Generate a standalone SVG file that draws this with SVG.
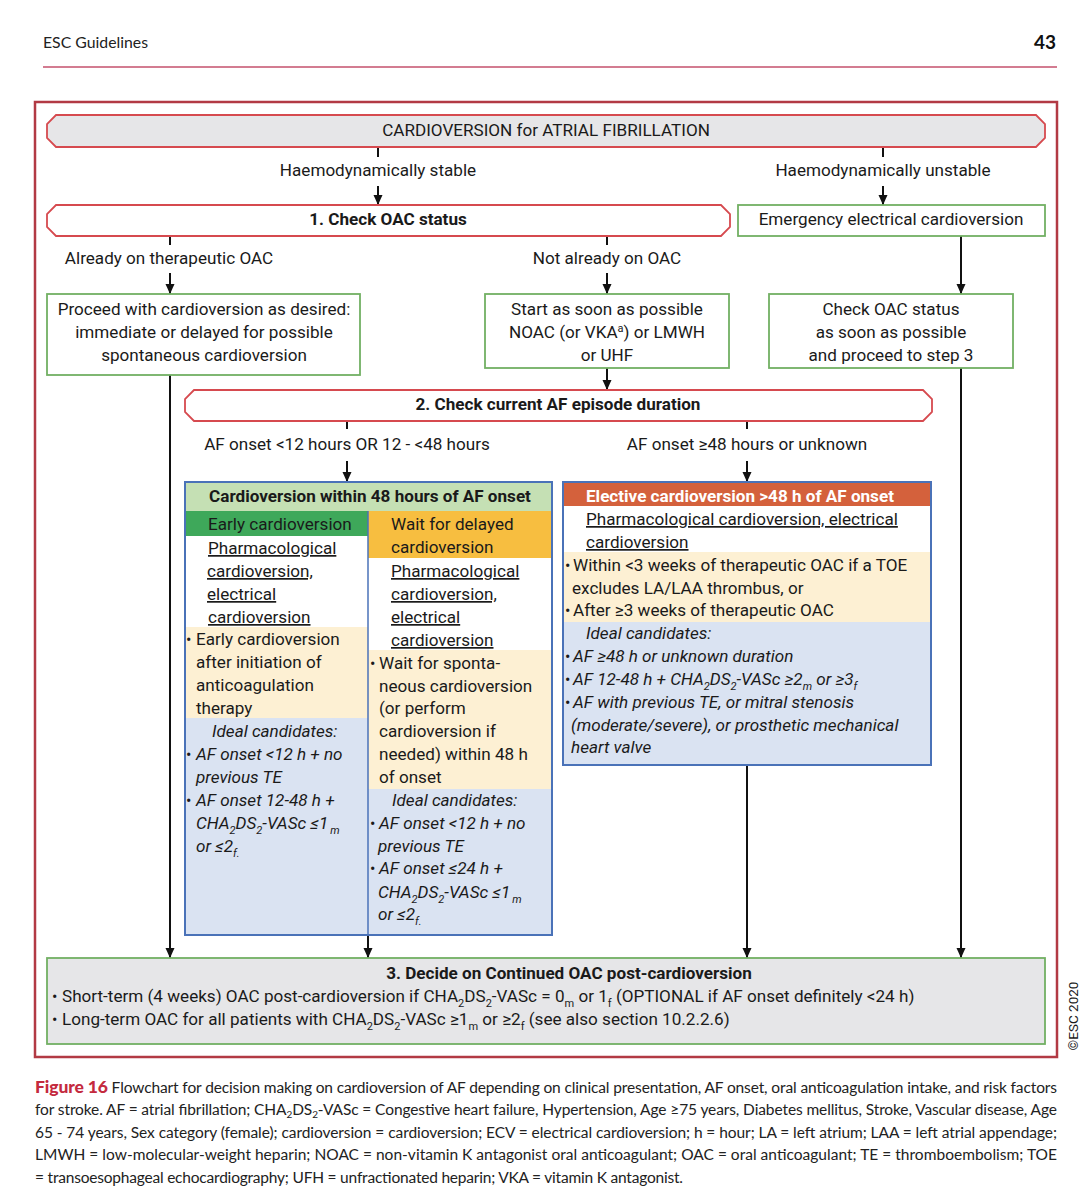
<svg xmlns="http://www.w3.org/2000/svg" width="1088" height="1200" viewBox="0 0 1088 1200">
<style>
text{font-family:Roboto,"Liberation Sans",sans-serif;font-size:17.1px;fill:#1a1a1a}
.c{text-anchor:middle}
.b{font-weight:bold}
.i{font-style:italic}
.u{text-decoration:underline}
.w{fill:#ffffff}
.sub{font-size:11px}
.bul{font-size:16px}
.cap{font-family:Lato,"Open Sans","Liberation Sans",sans-serif;font-size:15.5px;fill:#222}
.ban{stroke:#d64a4f;stroke-width:1.8}
.grn{fill:#ffffff;stroke:#72b063;stroke-width:1.8}
.conn line{stroke:#111;stroke-width:2}
.arr{marker-end:url(#ah)}
</style>
<defs>
<marker id="ah" markerUnits="userSpaceOnUse" markerWidth="10" markerHeight="10" refX="10" refY="5" orient="auto">
<path d="M0,0.5 L10,5 L0,9.5 z" fill="#111"/>
</marker>
</defs>
<rect width="1088" height="1200" fill="#ffffff"/>

<g id="page-header">
<text x="43" y="48" class="cap" style="font-size:15.8px">ESC Guidelines</text>
<text x="1056" y="49" class="cap b" style="font-size:19px;text-anchor:end;fill:#111">43</text>
<line x1="43" y1="67" x2="1057" y2="67" stroke="#c4506c" stroke-width="1.5"/>
</g>

<rect id="frame" x="35" y="102" width="1022" height="955" fill="none" stroke="#b23a44" stroke-width="2.5"/>

<g class="conn">
<line x1="378" y1="147" x2="378" y2="157"/>
<line class="arr" x1="378" y1="186" x2="378" y2="205"/>
<line x1="883" y1="147" x2="883" y2="157"/>
<line class="arr" x1="883" y1="186" x2="883" y2="205"/>
<line x1="170" y1="236" x2="170" y2="245"/>
<line class="arr" x1="170" y1="273" x2="170" y2="294"/>
<line x1="607" y1="236" x2="607" y2="245"/>
<line class="arr" x1="607" y1="273" x2="607" y2="294"/>
<line class="arr" x1="961" y1="236" x2="961" y2="294"/>
<line class="arr" x1="607" y1="368" x2="607" y2="390"/>
<line class="arr" x1="170" y1="375" x2="170" y2="958"/>
<line class="arr" x1="961" y1="368" x2="961" y2="958"/>
<line x1="347" y1="421" x2="347" y2="429"/>
<line class="arr" x1="347" y1="461" x2="347" y2="482"/>
<line x1="747" y1="421" x2="747" y2="429"/>
<line class="arr" x1="747" y1="461" x2="747" y2="482"/>
<line class="arr" x1="368" y1="935" x2="368" y2="958"/>
<line class="arr" x1="747" y1="765" x2="747" y2="958"/>
</g>

<g id="edge-labels">
<text x="378" y="176" class="c">Haemodynamically stable</text>
<text x="883" y="176" class="c">Haemodynamically unstable</text>
<text x="169" y="264" class="c">Already on therapeutic OAC</text>
<text x="607" y="264" class="c">Not already on OAC</text>
<text x="347" y="450" class="c">AF onset &lt;12 hours OR 12 - &lt;48 hours</text>
<text x="747" y="450" class="c">AF onset ≥48 hours or unknown</text>
</g>

<g id="title">
<polygon class="ban" fill="#e6e6e8" points="56,115 1036,115 1045,124 1045,138 1036,147 56,147 47,138 47,124"/>
<text x="546" y="136" class="c">CARDIOVERSION for ATRIAL FIBRILLATION</text>
</g>

<g id="check-oac">
<polygon class="ban" fill="#ffffff" points="56,205 721,205 730,214 730,227 721,236 56,236 47,227 47,214"/>
<text x="388" y="225" class="c b">1. Check OAC status</text>
</g>

<g id="emergency">
<rect class="grn" x="738" y="205" width="307" height="31"/>
<text x="891" y="225" class="c">Emergency electrical cardioversion</text>
</g>

<g id="proceed">
<rect class="grn" x="47" y="294" width="313" height="81"/>
<text x="204" y="315" class="c">Proceed with cardioversion as desired:</text>
<text x="204" y="338" class="c">immediate or delayed for possible</text>
<text x="204" y="361" class="c">spontaneous cardioversion</text>
</g>

<g id="start-oac">
<rect class="grn" x="485" y="294" width="244" height="74"/>
<text x="607" y="315" class="c">Start as soon as possible</text>
<text x="607" y="338" class="c">NOAC (or VKA<tspan class="sub" dy="-6">a</tspan><tspan dy="6">) or LMWH</tspan></text>
<text x="607" y="361" class="c">or UHF</text>
</g>

<g id="check-later">
<rect class="grn" x="769" y="294" width="244" height="74"/>
<text x="891" y="315" class="c">Check OAC status</text>
<text x="891" y="338" class="c">as soon as possible</text>
<text x="891" y="361" class="c">and proceed to step 3</text>
</g>

<g id="check-duration">
<polygon class="ban" fill="#ffffff" points="194,390 923,390 932,399 932,412 923,421 194,421 185,412 185,399"/>
<text x="558" y="410" class="c b">2. Check current AF episode duration</text>
</g>

<g id="within-48h">
<rect x="185" y="482" width="183" height="453" fill="#dae3f2"/>
<rect x="368" y="482" width="184" height="453" fill="#dae3f2"/>
<rect x="185" y="511" width="183" height="25" fill="#3ea85a"/>
<rect x="185" y="536" width="183" height="91" fill="#ffffff"/>
<rect x="185" y="627" width="183" height="91" fill="#fdf0d3"/>
<rect x="368" y="511" width="184" height="47" fill="#f7be40"/>
<rect x="368" y="558" width="184" height="92" fill="#ffffff"/>
<rect x="368" y="650" width="184" height="139" fill="#fdf0d3"/>
<rect x="185" y="482" width="367" height="29" fill="#c5e0b4"/>
<line x1="368" y1="511" x2="368" y2="935" stroke="#4a72b8" stroke-width="1.5"/>
<rect x="185" y="482" width="367" height="453" fill="none" stroke="#4a72b8" stroke-width="2"/>
<text x="370" y="502" class="c b">Cardioversion within 48 hours of AF onset</text>

<text x="208" y="530">Early cardioversion</text>
<text x="208" y="554" class="u">Pharmacological</text>
<text x="207" y="577" class="u">cardioversion,</text>
<text x="207" y="600" class="u">electrical</text>
<text x="208" y="623" class="u">cardioversion</text>
<text x="186" y="645" class="bul">•</text>
<text x="196" y="645">Early cardioversion</text>
<text x="196" y="668">after initiation of</text>
<text x="196" y="691">anticoagulation</text>
<text x="196" y="714">therapy</text>
<text x="212" y="737" class="i">Ideal candidates:</text>
<text x="186" y="760" class="bul">•</text>
<text x="196" y="760" class="i">AF onset &lt;12 h + no</text>
<text x="196" y="783" class="i">previous TE</text>
<text x="186" y="806" class="bul">•</text>
<text x="196" y="806" class="i">AF onset 12-48 h +</text>
<text x="196" y="829" class="i">CHA<tspan class="sub" dy="5">2</tspan><tspan dy="-5">DS</tspan><tspan class="sub" dy="5">2</tspan><tspan dy="-5">-VASc ≤1</tspan><tspan class="sub" dy="5" dx="2">m</tspan></text>
<text x="196" y="852" class="i">or ≤2<tspan class="sub" dy="5">f.</tspan></text>

<text x="391" y="530">Wait for delayed</text>
<text x="391" y="553">cardioversion</text>
<text x="391" y="577" class="u">Pharmacological</text>
<text x="391" y="600" class="u">cardioversion,</text>
<text x="391" y="623" class="u">electrical</text>
<text x="391" y="646" class="u">cardioversion</text>
<text x="370" y="669" class="bul">•</text>
<text x="379" y="669">Wait for sponta-</text>
<text x="379" y="692">neous cardioversion</text>
<text x="379" y="714">(or perform</text>
<text x="379" y="737">cardioversion if</text>
<text x="379" y="760">needed) within 48 h</text>
<text x="379" y="783">of onset</text>
<text x="392" y="806" class="i">Ideal candidates:</text>
<text x="370" y="829" class="bul">•</text>
<text x="379" y="829" class="i">AF onset &lt;12 h + no</text>
<text x="378" y="852" class="i">previous TE</text>
<text x="370" y="874" class="bul">•</text>
<text x="379" y="874" class="i">AF onset ≤24 h +</text>
<text x="378" y="898" class="i">CHA<tspan class="sub" dy="5">2</tspan><tspan dy="-5">DS</tspan><tspan class="sub" dy="5">2</tspan><tspan dy="-5">-VASc ≤1</tspan><tspan class="sub" dy="5" dx="2">m</tspan></text>
<text x="378" y="920" class="i">or ≤2<tspan class="sub" dy="5">f.</tspan></text>
</g>

<g id="elective">
<rect x="563" y="482" width="368" height="283" fill="#dae3f2"/>
<rect x="563" y="482" width="368" height="24" fill="#d4613c"/>
<rect x="563" y="506" width="368" height="46" fill="#ffffff"/>
<rect x="563" y="552" width="368" height="70" fill="#fdf0d3"/>
<rect x="563" y="482" width="368" height="283" fill="none" stroke="#4a72b8" stroke-width="2"/>
<text x="586" y="502" class="b w">Elective cardioversion &gt;48 h of AF onset</text>
<text x="586" y="525" class="u">Pharmacological cardioversion, electrical</text>
<text x="586" y="548" class="u">cardioversion</text>
<text x="565" y="571" class="bul">•</text>
<text x="573" y="571">Within &lt;3 weeks of therapeutic OAC if a TOE</text>
<text x="572" y="594">excludes LA/LAA thrombus, or</text>
<text x="565" y="616" class="bul">•</text>
<text x="573" y="616">After ≥3 weeks of therapeutic OAC</text>
<text x="586" y="639" class="i">Ideal candidates:</text>
<text x="565" y="662" class="bul">•</text>
<text x="573" y="662" class="i">AF ≥48 h or unknown duration</text>
<text x="565" y="685" class="bul">•</text>
<text x="573" y="685" class="i">AF 12-48 h + CHA<tspan class="sub" dy="5">2</tspan><tspan dy="-5">DS</tspan><tspan class="sub" dy="5">2</tspan><tspan dy="-5">-VASc ≥2</tspan><tspan class="sub" dy="5">m</tspan><tspan dy="-5"> or ≥3</tspan><tspan class="sub" dy="5">f</tspan></text>
<text x="565" y="708" class="bul">•</text>
<text x="573" y="708" class="i">AF with previous TE, or mitral stenosis</text>
<text x="571" y="731" class="i">(moderate/severe), or prosthetic mechanical</text>
<text x="571" y="753" class="i">heart valve</text>
</g>

<g id="decide">
<rect x="47" y="958" width="998" height="86" fill="#e6e6e8" stroke="#72b063" stroke-width="1.8"/>
<text x="569" y="979" class="c b">3. Decide on Continued OAC post-cardioversion</text>
<text x="52" y="1002" class="bul">•</text>
<text x="62" y="1002">Short-term (4 weeks) OAC post-cardioversion if CHA<tspan class="sub" dy="5">2</tspan><tspan dy="-5">DS</tspan><tspan class="sub" dy="5">2</tspan><tspan dy="-5">-VASc = 0</tspan><tspan class="sub" dy="5">m</tspan><tspan dy="-5"> or 1</tspan><tspan class="sub" dy="5">f</tspan><tspan dy="-5"> (OPTIONAL if AF onset definitely &lt;24 h)</tspan></text>
<text x="52" y="1025" class="bul">•</text>
<text x="62" y="1025">Long-term OAC for all patients with CHA<tspan class="sub" dy="5">2</tspan><tspan dy="-5">DS</tspan><tspan class="sub" dy="5">2</tspan><tspan dy="-5">-VASc ≥1</tspan><tspan class="sub" dy="5">m</tspan><tspan dy="-5"> or ≥2</tspan><tspan class="sub" dy="5">f</tspan><tspan dy="-5"> (see also section 10.2.2.6)</tspan></text>
</g>

<text transform="translate(1078,1016) rotate(-90)" class="c" style="font-size:13.5px">©ESC 2020</text>

<g id="caption">
<text x="35" y="1093" class="cap" textLength="1022" lengthAdjust="spacing"><tspan style="font-weight:900;fill:#c42a3e;font-size:17.5px">Figure 16</tspan> Flowchart for decision making on cardioversion of AF depending on clinical presentation, AF onset, oral anticoagulation intake, and risk factors</text>
<text x="35" y="1115" class="cap" textLength="1022" lengthAdjust="spacing">for stroke. AF = atrial fibrillation; CHA<tspan style="font-size:10px" dy="3">2</tspan><tspan dy="-3">DS</tspan><tspan style="font-size:10px" dy="3">2</tspan><tspan dy="-3">-VASc = Congestive heart failure, Hypertension, Age ≥75 years, Diabetes mellitus, Stroke, Vascular disease, Age</tspan></text>
<text x="35" y="1138" class="cap" textLength="1022" lengthAdjust="spacing">65 - 74 years, Sex category (female); cardioversion = cardioversion; ECV = electrical cardioversion; h = hour; LA = left atrium; LAA = left atrial appendage;</text>
<text x="35" y="1160" class="cap" textLength="1022" lengthAdjust="spacing">LMWH = low-molecular-weight heparin; NOAC = non-vitamin K antagonist oral anticoagulant; OAC = oral anticoagulant; TE = thromboembolism; TOE</text>
<text x="35" y="1183" class="cap" textLength="648" lengthAdjust="spacing">= transoesophageal echocardiography; UFH = unfractionated heparin; VKA = vitamin K antagonist.</text>
</g>
</svg>
